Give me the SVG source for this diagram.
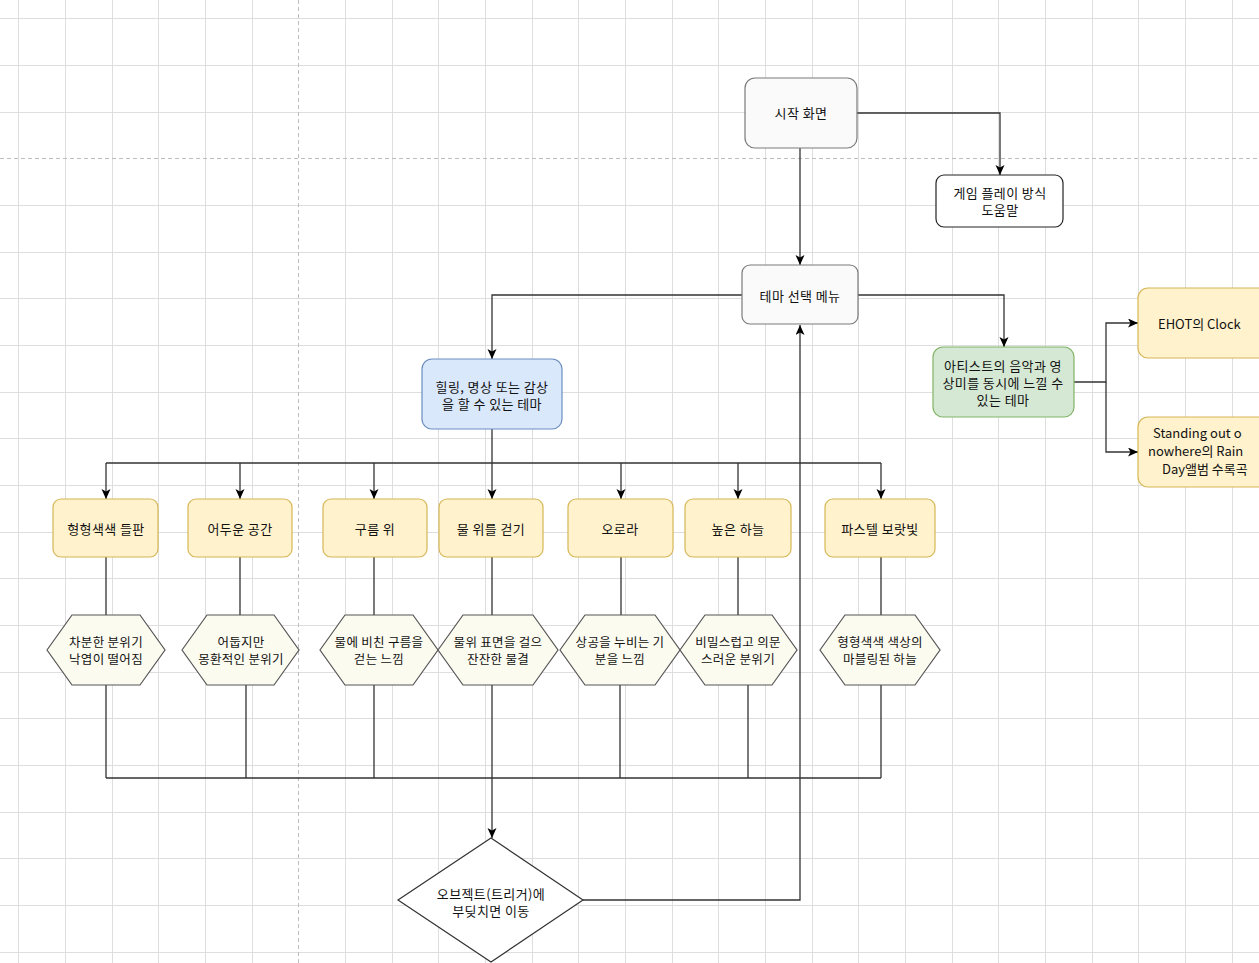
<svg xmlns="http://www.w3.org/2000/svg" width="1259" height="963" viewBox="0 0 1259 963">
<style>
.t{font-family:"Noto Sans CJK KR","Noto Sans",sans-serif;font-size:13px;fill:#111;text-anchor:middle;dominant-baseline:central;letter-spacing:0.4px}
.th{font-family:"Noto Sans CJK KR","Noto Sans",sans-serif;font-size:12.5px;fill:#111;text-anchor:middle;dominant-baseline:central;letter-spacing:0.3px}
.ts{font-family:"Noto Sans CJK KR","Noto Sans",sans-serif;font-size:13px;fill:#111;text-anchor:start;dominant-baseline:central}
.grid{stroke:#dedede;stroke-width:1;fill:none}
.pg{stroke:#bdbdbd;stroke-width:1;stroke-dasharray:4 3;fill:none}
.c{stroke:#333;stroke-width:1.3;fill:none}
.ca{stroke:#333;stroke-width:1.3;fill:none;marker-end:url(#arr)}
.gray{fill:#fafafa;stroke:#7a7a7a;stroke-width:1.2}
.help{fill:#fff;stroke:#222;stroke-width:1.2}
.blue{fill:#dae8fc;stroke:#6c8ebf;stroke-width:1.2}
.green{fill:#d5e8d4;stroke:#82b366;stroke-width:1.2}
.yel{fill:#fff2cc;stroke:#d6b656;stroke-width:1.2}
.hex{fill:#fcfbf0;stroke:#555;stroke-width:1.2}
.dia{fill:#fff;stroke:#333;stroke-width:1.2}
</style>
<defs>
<marker id="arr" markerUnits="userSpaceOnUse" markerWidth="11" markerHeight="10" refX="10" refY="4.5" orient="auto">
<path d="M0,0 L10,4.5 L0,9 L2.5,4.5 Z" fill="#000"/>
</marker>
</defs>
<rect width="1259" height="963" fill="#fff"/>
<g id="grid">
<path class="grid" d="M18.5 0V963M65.5 0V963M112.5 0V963M205.5 0V963M252.5 0V963M345.5 0V963M392.5 0V963M438.5 0V963M485.5 0V963M532.5 0V963M578.5 0V963M625.5 0V963M672.5 0V963M718.5 0V963M765.5 0V963M812.5 0V963M858.5 0V963M905.5 0V963M952.5 0V963M998.5 0V963M1045.5 0V963M1092.5 0V963M1138.5 0V963M1185.5 0V963M1232.5 0V963M0 18.5H1259M0 65.5H1259M0 112.5H1259M0 205.5H1259M0 252.5H1259M0 298.5H1259M0 345.5H1259M0 392.5H1259M0 438.5H1259M0 485.5H1259M0 532.5H1259M0 578.5H1259M0 625.5H1259M0 672.5H1259M0 718.5H1259M0 765.5H1259M0 812.5H1259M0 858.5H1259M0 905.5H1259M0 952.5H1259"/>
<path class="grid" d="M158.5 0V963"/>
<path class="pg" d="M0 158.5H1259M298.5 0V963"/>
</g>
<g id="connectors">
<path class="ca" d="M857 113H1000V175"/>
<path class="ca" d="M800 148V265"/>
<path class="ca" d="M742 295H492V359"/>
<path class="ca" d="M858 295H1004V347"/>
<path class="ca" d="M1074 382H1106V323H1138"/>
<path class="ca" d="M1106 382V452H1138"/>
<path class="c" d="M492 429V463M106 463H881"/>
<path class="ca" d="M106 463V499"/>
<path class="ca" d="M240 463V499"/>
<path class="ca" d="M374 463V499"/>
<path class="ca" d="M492 463V499"/>
<path class="ca" d="M621 463V499"/>
<path class="ca" d="M738 463V499"/>
<path class="ca" d="M881 463V499"/>
<path class="c" d="M106 557V615M240 557V615M374 557V615M492 557V615M621 557V615M738 557V615M881 557V615"/>
<path class="c" d="M106 685V778M246 685V778M374 685V778M620 685V778M748 685V778M881 685V778M106 778H881"/>
<path class="ca" d="M492 685V838"/>
<path class="ca" d="M583 900H800V325"/>
</g>
<g id="start"><rect class="gray" x="745" y="78" width="112" height="70" rx="10"/><text class="t" x="801" y="112">시작 화면</text></g>
<g id="help"><rect class="help" x="936" y="175" width="127" height="52" rx="8"/><text class="t" x="1000" y="192.5">게임 플레이 방식</text><text class="t" x="1000" y="209.5">도움말</text></g>
<g id="theme"><rect class="gray" x="742" y="265" width="116" height="59" rx="8"/><text class="t" x="800" y="295">테마 선택 메뉴</text></g>
<g id="healing"><rect class="blue" x="422" y="359" width="140" height="70" rx="10"/><text class="t" x="492" y="386">힐링, 명상 또는 감상</text><text class="t" x="492" y="403">을 할 수 있는 테마</text></g>
<g id="artist"><rect class="green" x="933" y="347" width="141" height="70" rx="10"/><text class="t" x="1003" y="365">아티스트의 음악과 영</text><text class="t" x="1003" y="382">상미를 동시에 느낄 수</text><text class="t" x="1003" y="399">있는 테마</text></g>
<g id="ehot"><rect class="yel" x="1138" y="288" width="140" height="70" rx="10"/><text class="ts" x="1158" y="323">EHOT의 Clock</text></g>
<g id="standing"><rect class="yel" x="1138" y="417" width="140" height="70" rx="10"/><text class="ts" x="1153" y="432">Standing out o</text><text class="ts" x="1148" y="450">nowhere의 Rain</text><text class="ts" x="1162" y="468">Day앨범 수록곡</text></g>
<g id="n1"><rect class="yel" x="53" y="499" width="105" height="58" rx="8"/><text class="t" x="106" y="528">형형색색 들판</text></g>
<g id="n2"><rect class="yel" x="188" y="499" width="104" height="58" rx="8"/><text class="t" x="240" y="528">어두운 공간</text></g>
<g id="n3"><rect class="yel" x="323" y="499" width="104" height="58" rx="8"/><text class="t" x="375" y="528">구름 위</text></g>
<g id="n4"><rect class="yel" x="439" y="499" width="104" height="58" rx="8"/><text class="t" x="491" y="528">물 위를 걷기</text></g>
<g id="n5"><rect class="yel" x="568" y="499" width="105" height="58" rx="8"/><text class="t" x="620" y="528">오로라</text></g>
<g id="n6"><rect class="yel" x="685" y="499" width="106" height="58" rx="8"/><text class="t" x="738" y="528">높은 하늘</text></g>
<g id="n7"><rect class="yel" x="825" y="499" width="110" height="58" rx="8"/><text class="t" x="880" y="528">파스텔 보랏빛</text></g>
<g id="h1"><polygon class="hex" points="47,650 72,615 140,615 165,650 140,685 72,685"/><text class="th" x="106" y="641">차분한 분위기</text><text class="th" x="106" y="658">낙엽이 떨어짐</text></g>
<g id="h2"><polygon class="hex" points="182,650 207,615 274,615 299,650 274,685 207,685"/><text class="th" x="241" y="641">어둡지만</text><text class="th" x="241" y="658">몽환적인 분위기</text></g>
<g id="h3"><polygon class="hex" points="320,650 345,615 413,615 438,650 413,685 345,685"/><text class="th" x="379" y="641">물에 비친 구름을</text><text class="th" x="379" y="658">걷는 느낌</text></g>
<g id="h4"><polygon class="hex" points="438,650 463,615 533,615 558,650 533,685 463,685"/><text class="th" x="498" y="641">물위 표면을 걸으</text><text class="th" x="498" y="658">잔잔한 물결</text></g>
<g id="h5"><polygon class="hex" points="560,650 585,615 655,615 680,650 655,685 585,685"/><text class="th" x="620" y="641">상공을 누비는 기</text><text class="th" x="620" y="658">분을 느낌</text></g>
<g id="h6"><polygon class="hex" points="680,650 705,615 772,615 797,650 772,685 705,685"/><text class="th" x="738" y="641">비밀스럽고 의문</text><text class="th" x="738" y="658">스러운 분위기</text></g>
<g id="h7"><polygon class="hex" points="820,650 845,615 915,615 940,650 915,685 845,685"/><text class="th" x="880" y="641">형형색색 색상의</text><text class="th" x="880" y="658">마블링된 하늘</text></g>
<g id="trigger"><polygon class="dia" points="491,838 583,900 491,962 398,900"/><text class="t" x="491" y="893">오브젝트(트리거)에</text><text class="t" x="491" y="910">부딪치면 이동</text></g>
</svg>
